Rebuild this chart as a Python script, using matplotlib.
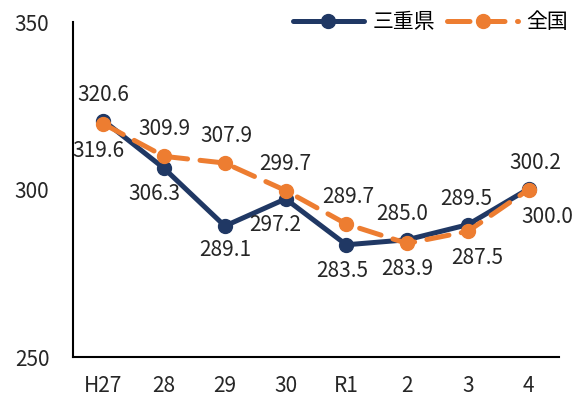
import matplotlib
matplotlib.use("Agg")
import matplotlib.pyplot as plt

categories = ["H27", "28", "29", "30", "R1", "2", "3", "4"]
mie = [320.6, 306.3, 289.1, 297.2, 283.5, 285.0, 289.5, 300.2]
zenkoku = [319.6, 309.9, 307.9, 299.7, 289.7, 283.9, 287.5, 300.0]
yticks = [250, 300, 350]

# label offsets in pixels (dx, dy; dy positive = up)
mie_off = [(0, 26), (-10, -26), (0, -24), (-10, -26), (-4, -26), (-5, 26), (-2, 26), (7, 26)]
zen_off = [(-5, -27), (0, 27), (2, 27), (0, 27), (2, 27), (0, -26), (9, -27), (19, -27)]

plt.rcParams['font.family'] = ['Noto Sans CJK JP', 'DejaVu Sans']

fig = plt.figure(figsize=(5.78, 4.04), dpi=100)
ax = fig.add_axes([0.1263, 0.1163, 0.8407, 0.8292])

navy = "#203864"
orange = "#ED7D31"
txt = "#262626"
x = list(range(len(categories)))
px = 0.72  # points per pixel

ax.plot(x, mie, color=navy, lw=3.6, marker="o", ms=10, label="三重県", zorder=3,
        solid_capstyle="round")
ax.plot(x, zenkoku, color=orange, lw=3.6, marker="o", ms=10, ls=(0, (4.5, 2.5)),
        label="全国", zorder=4, dash_capstyle="round")

for vals, offs in ((mie, mie_off), (zenkoku, zen_off)):
    for i, (v, (dx, dy)) in enumerate(zip(vals, offs)):
        ax.annotate(f"{v:.1f}", (i, v), xytext=(dx * px, dy * px),
                    textcoords="offset points", ha="center", va="center",
                    fontsize=15, color=txt)

ax.set_xlim(-0.5, len(categories) - 0.5)
ax.set_ylim(250, 350)
ax.set_yticks(yticks)
ax.set_xticks(x)
ax.set_xticklabels(categories)
ax.tick_params(axis="both", length=0, labelsize=15, colors=txt)
ax.tick_params(axis="y", pad=17)
ax.tick_params(axis="x", pad=13)
for s in ["top", "right"]:
    ax.spines[s].set_visible(False)
for s in ["left", "bottom"]:
    ax.spines[s].set_color("black")
    ax.spines[s].set_linewidth(1.5)

fig.legend(loc="center left", bbox_to_anchor=(293 / 578, 1 - 22 / 404), ncol=2,
           frameon=False, fontsize=15, handlelength=3.4, columnspacing=0.6,
           handletextpad=0.4, borderpad=0, borderaxespad=0)

fig.savefig("out.png", dpi=100)
